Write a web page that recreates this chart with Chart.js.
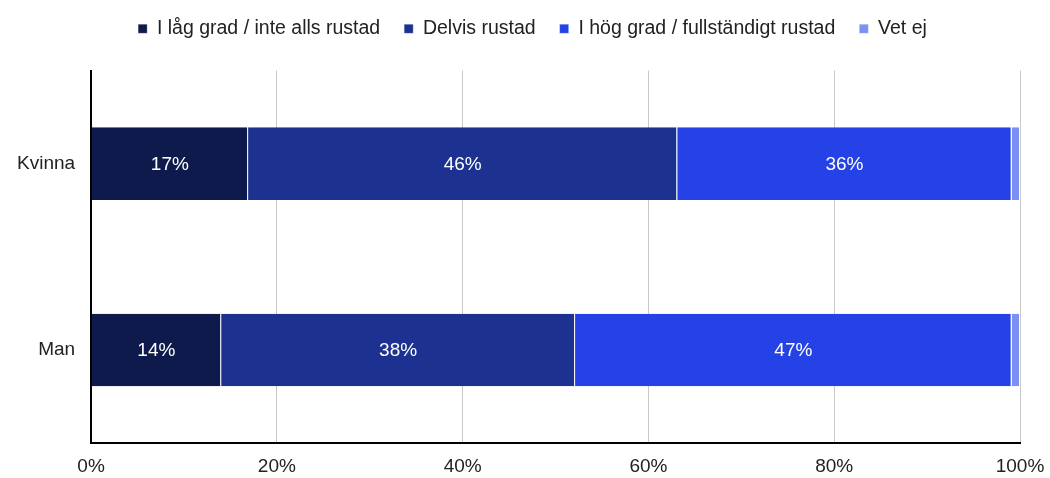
<!DOCTYPE html>
<html>
<head>
<meta charset="utf-8">
<script src="https://cdn.jsdelivr.net/npm/chart.js@4/dist/chart.umd.min.js"></script>
<style>
  html, body { margin: 0; padding: 0; background: #fff; }
  #wrap { width: 1050px; height: 478px; }
</style>
</head>
<body>
<div id="wrap"><canvas id="rustadChart"></canvas></div>
<script>
// Categories and series (percent)
const categories = ['Kvinna', 'Man'];
const seriesNames = ['I låg grad / inte alls rustad', 'Delvis rustad', 'I hög grad / fullständigt rustad', 'Vet ej'];
const lagGrad = [16.9, 14.0];
const delvis = [46.2, 38.1];
const hogGrad = [36.0, 47.0];
const vetEj = [0.9, 0.9];
const xTicks = [0, 20, 40, 60, 80, 100];

const colors = ['#0d1a4b', '#1d3290', '#2542e6', '#7c8ff2'];
const seriesValues = [lagGrad, delvis, hogGrad, vetEj];
const fontFamily = '"Liberation Sans", Arial, sans-serif';

// Draws the rounded percentages in the middle of each segment
const segmentLabels = {
    id: 'segmentLabels',
    afterDatasetsDraw(chart) {
        const ctx = chart.ctx;
        ctx.save();
        ctx.font = '19px ' + fontFamily;
        ctx.fillStyle = '#ffffff';
        ctx.textAlign = 'center';
        ctx.textBaseline = 'middle';
        chart.data.datasets.forEach(function (ds, i) {
            const meta = chart.getDatasetMeta(i);
            meta.data.forEach(function (bar, j) {
                const v = ds.data[j];
                if (v < 5) return;
                ctx.fillText(Math.round(v) + '%', (bar.x + bar.base) / 2, bar.y + 1);
            });
        });
        ctx.restore();
    }
};

// Extra room between legend and plot, legend nudged right
const legendSpacing = {
    id: 'legendSpacing',
    beforeInit(chart) {
        const legend = chart.legend;
        const origFit = legend.fit;
        const origDraw = legend.draw;
        legend.fit = function () {
            origFit.call(this);
            this.height += 22;
        };
        legend.draw = function () {
            chart.ctx.save();
            chart.ctx.translate(22, 0);
            origDraw.apply(this, arguments);
            chart.ctx.restore();
        };
    }
};

const ctx = document.getElementById('rustadChart').getContext('2d');
const rustadChart = new Chart(ctx, {
    type: 'bar',
    data: {
        labels: categories,
        datasets: seriesNames.map(function (name, i) {
            return {
                label: name,
                data: seriesValues[i],
                backgroundColor: colors[i],
                borderColor: '#ffffff',
                borderWidth: { left: 0, right: 1, top: 0, bottom: 0 },
                borderSkipped: false,
                categoryPercentage: 1,
                barPercentage: 0.39
            };
        })
    },
    options: {
        indexAxis: 'y',
        responsive: true,
        maintainAspectRatio: false,
        animation: false,
        layout: { padding: { left: 1, right: 30, top: -5, bottom: -12 } },
        plugins: {
            legend: {
                position: 'top',
                labels: {
                    usePointStyle: true,
                    pointStyle: 'rect',
                    boxWidth: 9,
                    boxHeight: 9,
                    padding: 24,
                    color: '#222222',
                    font: { size: 19.5, family: fontFamily }
                }
            },
            tooltip: { enabled: false }
        },
        scales: {
            x: {
                stacked: true,
                min: 0,
                max: 100,
                afterBuildTicks: function (axis) {
                    axis.ticks = xTicks.map(function (v) { return { value: v }; });
                },
                afterFit: function (axis) {
                    axis.paddingLeft = 0;
                    axis.paddingRight = 0;
                },
                grid: { color: '#c8c8c8', lineWidth: 1, drawTicks: false },
                border: { color: '#000000', width: 2 },
                ticks: {
                    padding: 12,
                    color: '#222222',
                    font: { size: 19, family: fontFamily },
                    callback: function (v) { return v + '%'; }
                }
            },
            y: {
                stacked: true,
                grid: { display: false, drawTicks: false },
                border: { color: '#000000', width: 2 },
                ticks: {
                    padding: 16,
                    color: '#222222',
                    font: { size: 19, family: fontFamily }
                }
            }
        }
    },
    plugins: [segmentLabels, legendSpacing]
});
</script>
</body>
</html>
